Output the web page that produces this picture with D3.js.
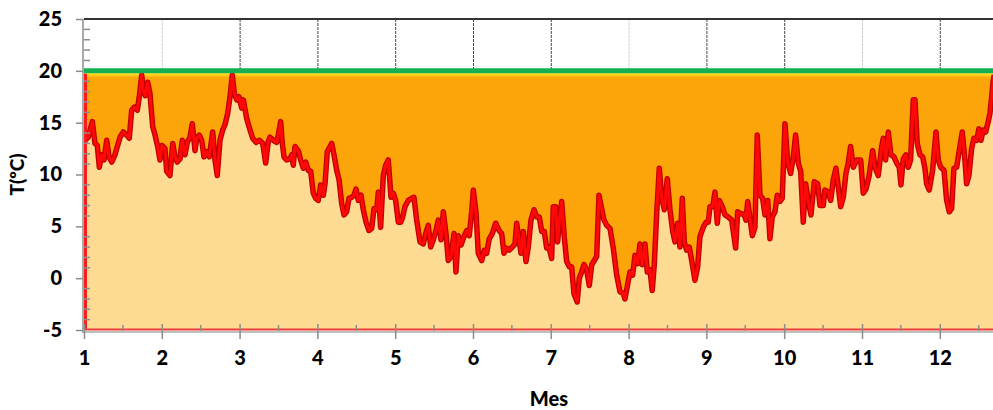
<!DOCTYPE html>
<html><head><meta charset="utf-8">
<script src="https://cdn.jsdelivr.net/npm/d3@7"></script>
<style>
html,body{margin:0;padding:0;background:#fff;}
svg{display:block;}
text{font-family:Lato,"Open Sans",sans-serif;font-weight:700;fill:#000;}
</style></head><body>
<svg id="c" width="993" height="410"></svg>
<script>
// Month position (decimal) of each reading
const mes = [1.000,1.013,1.055,1.107,1.141,1.171,1.197,1.227,1.257,1.292,1.321,1.356,1.398,1.463,1.505,1.549,1.582,1.613,1.647,1.685,1.711,1.742,1.762,1.788,1.819,1.848,1.883,1.913,1.947,1.977,2.003,2.041,2.063,2.105,2.140,2.170,2.199,2.234,2.263,2.298,2.328,2.362,2.392,2.427,2.449,2.482,2.513,2.542,2.577,2.610,2.654,2.684,2.713,2.748,2.783,2.812,2.847,2.877,2.906,2.932,2.963,2.992,3.027,3.048,3.091,3.134,3.168,3.211,3.253,3.297,3.335,3.369,
3.391,3.433,3.477,3.497,3.528,3.549,3.571,3.605,3.648,3.670,3.690,3.712,3.754,3.785,3.819,3.850,3.883,3.914,3.947,3.978,4.011,4.042,4.076,4.098,4.127,4.149,4.184,4.213,4.248,4.278,4.312,4.342,4.376,4.406,4.441,4.470,4.496,4.526,4.560,4.590,4.625,4.663,4.698,4.727,4.762,4.783,4.813,4.847,4.878,4.911,4.946,4.975,5.006,5.040,5.071,5.096,5.126,5.168,5.212,5.241,5.276,5.319,5.361,5.392,5.425,5.456,5.490,5.524,5.554,5.589,5.618,5.653,5.682,5.717,
5.756,5.781,5.811,5.846,5.884,5.919,5.952,5.983,6.004,6.038,6.068,6.112,6.145,6.176,6.209,6.248,6.292,6.334,6.369,6.398,6.433,6.466,6.505,6.540,6.561,6.591,6.617,6.646,6.681,6.711,6.745,6.784,6.819,6.852,6.883,6.916,6.947,6.977,7.011,7.032,7.063,7.088,7.109,7.140,7.173,7.204,7.238,7.268,7.298,7.340,7.366,7.397,7.427,7.461,7.495,7.526,7.559,7.590,7.619,7.654,7.684,7.718,7.761,7.803,7.847,7.889,7.932,7.953,7.983,8.018,8.052,8.082,
8.117,8.146,8.176,8.211,8.240,8.275,8.304,8.330,8.361,8.394,8.425,8.459,8.497,8.532,8.567,8.596,8.631,8.660,8.690,8.716,8.746,8.780,8.818,8.853,8.888,8.917,8.960,8.995,9.024,9.046,9.081,9.110,9.140,9.166,9.204,9.239,9.281,9.325,9.376,9.402,9.444,9.483,9.509,9.531,9.560,9.590,9.624,9.654,9.689,9.723,9.753,9.788,9.817,9.847,9.881,9.911,9.946,9.975,10.010,10.045,10.083,10.117,10.147,10.181,10.212,10.245,10.276,10.310,10.344,10.387,10.430,10.460,10.502,
10.524,10.567,10.598,10.631,10.665,10.695,10.726,10.760,10.794,10.823,10.854,10.888,10.932,10.983,11.016,11.051,11.090,11.137,11.167,11.209,11.253,11.273,11.304,11.338,11.372,11.411,11.446,11.479,11.501,11.531,11.565,11.595,11.625,11.659,11.681,11.710,11.745,11.780,11.809,11.831,11.864,11.908,11.951,11.980,12.011,12.054,12.088,12.122,12.152,12.182,12.217,12.250,12.289,12.323,12.345,12.375,12.409,12.439,12.474,12.503,12.529,12.559,12.590,12.623,12.645,12.667,12.684,12.700];
// Temperature (ºC)
const temp = [12.8,13.3,13.6,15.1,13.0,12.8,10.7,11.9,11.4,13.3,11.7,11.2,11.9,13.6,14.1,13.8,13.5,16.2,16.5,16.2,17.5,19.6,18.1,17.6,18.9,17.8,14.6,13.8,12.7,11.4,12.8,12.5,10.3,9.9,13.0,11.7,11.2,11.5,13.3,11.9,13.1,13.6,14.9,12.3,13.5,13.8,13.3,11.7,12.2,11.7,14.1,11.4,9.9,13.3,14.3,14.8,15.9,17.5,19.6,17.8,17.2,17.5,16.4,17.2,15.4,14.3,13.5,13.1,13.3,13.0,11.1,13.2,
13.6,13.3,13.1,13.8,15.1,13.0,11.7,11.4,11.5,11.9,10.9,12.7,12.3,11.4,10.6,11.2,10.4,10.3,8.2,7.7,7.5,9.0,8.0,9.1,12.2,12.5,13.0,11.9,10.4,9.5,7.2,6.1,6.4,7.7,7.8,8.0,8.6,7.5,8.0,6.6,5.4,4.6,4.8,6.7,6.6,8.3,4.9,9.9,10.9,11.4,7.8,8.2,7.5,5.4,5.4,5.9,6.9,7.5,7.7,7.8,5.6,3.5,3.3,4.3,5.1,3.0,3.7,4.6,5.6,3.7,6.4,4.3,1.7,2.1,
4.3,0.6,4.1,3.2,4.0,4.6,4.1,6.4,8.5,6.4,2.4,1.7,2.7,2.4,3.8,4.3,5.3,4.6,4.3,2.4,2.9,2.7,3.0,3.3,5.3,3.8,2.4,4.5,1.6,3.0,5.6,6.6,5.9,5.9,4.5,4.5,2.9,3.0,1.9,6.9,6.9,3.5,5.3,7.4,4.0,1.6,1.1,1.1,-1.5,-2.3,0.0,0.6,1.3,0.8,-0.7,1.3,1.7,2.1,8.0,6.7,5.6,5.1,4.8,2.9,0.3,-1.3,-1.5,-2.0,-0.8,0.6,0.3,2.2,
1.4,3.3,1.3,3.3,0.6,0.8,-1.2,1.3,6.2,10.6,7.8,6.6,9.6,6.6,4.5,3.5,5.3,3.0,7.7,3.5,2.7,3.0,1.4,-0.2,1.1,4.0,4.9,5.4,5.4,6.9,6.9,8.3,5.3,7.5,6.9,6.1,5.9,5.6,2.9,6.4,6.2,6.2,5.6,7.4,5.8,4.1,4.9,13.8,8.0,7.7,6.1,7.5,3.8,5.9,6.4,8.0,7.4,7.7,14.9,11.2,10.1,11.7,13.8,11.1,10.3,5.4,9.1,7.4,6.1,9.3,9.1,7.0,7.0,
8.5,8.3,7.5,9.5,10.6,8.8,6.9,7.8,10.1,11.1,12.7,10.7,11.4,11.4,8.2,8.6,9.8,12.3,10.7,9.9,12.7,13.5,11.4,14.1,11.9,11.7,11.1,10.7,9.0,11.5,11.9,10.7,11.4,17.2,17.2,13.0,11.9,11.7,10.6,9.1,8.5,10.4,14.1,11.4,10.7,10.4,7.5,6.4,6.7,10.6,10.7,12.3,14.1,11.4,9.1,9.9,12.5,13.5,13.3,14.4,13.3,14.3,14.1,15.1,15.9,17.5,18.9,19.6];
const yTicks = [-5,0,5,10,15,20,25];
const xTicks = [1,2,3,4,5,6,7,8,9,10,11,12];
const yMin = -5, yMax = 25, yTop = 20;
const xTitle = "Mes", yTitle = "T(ºC)";

const data = mes.map((m,i)=>({m, t: temp[i]}));
const svg = d3.select("#c");
const W = 993, L = 84;
const x = d3.scaleLinear().domain([1, 12.684]).range([L, W]);
const y = d3.scaleLinear().domain([yMin, yMax]).range([330, 19]);

const defs = svg.append("defs");
defs.append("clipPath").attr("id","clip").append("rect")
  .attr("x", x(1)).attr("y", y(yMax)).attr("width", W - x(1)).attr("height", y(yMin) - y(yMax));
const g = defs.append("linearGradient").attr("id","yg").attr("x1",0).attr("y1",0).attr("x2",0).attr("y2",1);
g.append("stop").attr("offset","0%").attr("stop-color","#fff35a");
g.append("stop").attr("offset","50%").attr("stop-color","#ffd21e");
g.append("stop").attr("offset","100%").attr("stop-color","#fca50a");

const plot = svg.append("g").attr("clip-path","url(#clip)");

// top vertical gridlines (between 20 and 25)
const dark = new Set([3,4,5,6,7,9,10,12]);
plot.selectAll("line.vg").data(xTicks.slice(1)).enter().append("line")
  .attr("x1", d=>x(d)+0.5).attr("x2", d=>x(d)+0.5)
  .attr("y1", y(yMax)).attr("y2", y(yTop))
  .attr("stroke", d=> dark.has(d) ? "#444" : "#ccc")
  .attr("stroke-width", 1).attr("stroke-dasharray","3,1");

// orange band from 20 to -5
plot.append("rect").attr("x", x(1)).attr("width", W - x(1))
  .attr("y", y(yTop)).attr("height", y(yMin) - y(yTop)).attr("fill","#fca50a");
// yellow gradient under the green line
plot.append("rect").attr("x", x(1)).attr("width", W - x(1))
  .attr("y", y(yTop)+1).attr("height", 6).attr("fill","url(#yg)");

// light area below the temperature line
const areaLow = d3.area().x(d=>x(d.m)).y0(y(yMin)).y1(d=>y(d.t));
plot.append("path").datum(data).attr("d", areaLow).attr("fill","#fddb92");

// temperature line
const line = d3.line().x(d=>x(d.m)).y(d=>y(d.t));
plot.append("path").datum(data).attr("d", line).attr("fill","none")
  .attr("stroke","#c00000").attr("stroke-width",5.5).attr("stroke-linejoin","round");
plot.append("path").datum(data).attr("d", line).attr("fill","none")
  .attr("stroke","#ff0808").attr("stroke-width",3).attr("stroke-linejoin","round");

// green line at 20
plot.append("line").attr("x1", x(1)).attr("x2", W).attr("y1", y(yTop)).attr("y2", y(yTop))
  .attr("stroke","#12b050").attr("stroke-width",5);

// red borders (left and bottom)
svg.append("line").attr("x1", x(1)+1.5).attr("x2", x(1)+1.5).attr("y1", y(yTop)+3).attr("y2", y(yMin))
  .attr("stroke","#ff1a1a").attr("stroke-width",3);
svg.append("line").attr("x1", x(1)).attr("x2", W).attr("y1", y(yMin)-0.5).attr("y2", y(yMin)-0.5)
  .attr("stroke","#f03a3a").attr("stroke-width",2);

// top frame
svg.append("line").attr("x1", x(1)).attr("x2", W).attr("y1", y(yMax)).attr("y2", y(yMax))
  .attr("stroke","#333").attr("stroke-width",2);

// minor ticks
const yMinor = d3.range(yMin, yMax+0.01, 1).filter(v => v % 5 !== 0);
svg.selectAll("line.ym").data(yMinor).enter().append("line")
  .attr("x1", x(1)).attr("x2", x(1)+6).attr("y1", d=>y(d)).attr("y2", d=>y(d))
  .attr("stroke","#8c8c8c").attr("stroke-width",1.5);
const xMinor = xTicks.map(d=>d+0.5).filter(d=>d<12.684);
svg.selectAll("line.xm").data(xMinor).enter().append("line")
  .attr("x1", d=>x(d)).attr("x2", d=>x(d)).attr("y1", y(yMin)+1).attr("y2", y(yMin)-5)
  .attr("stroke","#8c8c8c").attr("stroke-width",1.5);

// axes
const ax = svg.append("g").attr("transform",`translate(${x(1)-1},0)`)
  .call(d3.axisLeft(y).tickValues(yTicks).tickSize(7).tickPadding(14).tickFormat(d => String(d)));
ax.select(".domain").attr("stroke","#8c8c8c").attr("stroke-width",1.5).attr("d", `M0,${y(yMax)}V${y(yMin)+3}`);
ax.selectAll(".tick line").attr("stroke","#8c8c8c").attr("stroke-width",1.5);
ax.selectAll("text").style("font-size","20px").style("font-family","Lato, sans-serif").style("font-weight","900").attr("fill","#000");

const bx = svg.append("g").attr("transform",`translate(0,${y(yMin)+2})`)
  .call(d3.axisBottom(x).tickValues(xTicks).tickSize(7).tickPadding(12).tickFormat(d => String(d)));
bx.select(".domain").attr("stroke","#aaa").attr("stroke-width",1.5).attr("d", `M${x(1)-1},0H${W}`);
bx.selectAll(".tick line").attr("stroke","#8c8c8c").attr("stroke-width",1.5).attr("y1",-8);
bx.selectAll("text").style("font-size","20px").style("font-family","Lato, sans-serif").style("font-weight","900").attr("fill","#000");

// titles
svg.append("text").attr("transform",`translate(24,${(y(yMax)+y(yMin))/2}) rotate(-90)`)
  .attr("text-anchor","middle").style("font-size","19px").style("font-weight","900").text(yTitle);
svg.append("text").attr("x", 549).attr("y", 406).attr("text-anchor","middle")
  .style("font-size","20px").style("font-weight","900").text(xTitle);
</script></body></html>
